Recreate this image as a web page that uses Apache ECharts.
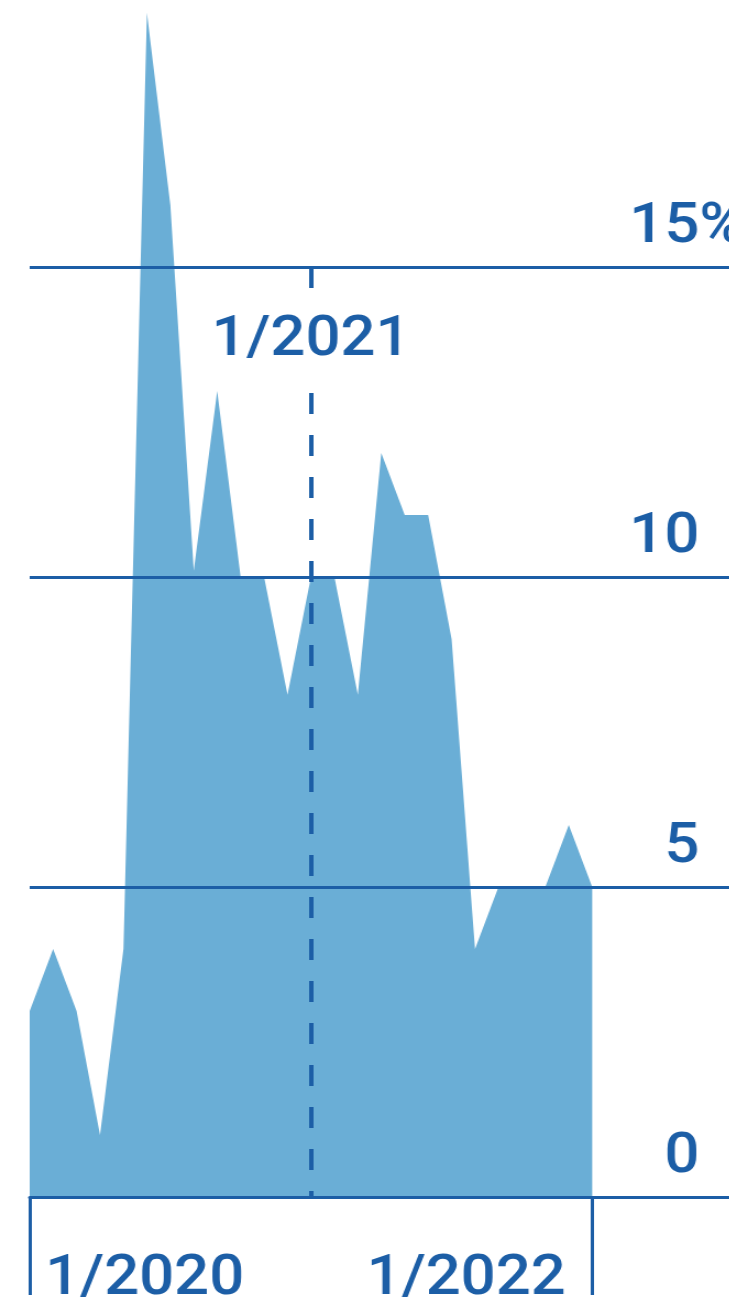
<!DOCTYPE html>
<html>
<head>
<meta charset="utf-8">
<script src="https://cdn.jsdelivr.net/npm/echarts@6/dist/echarts.min.js"></script>
<style>
  html, body { margin: 0; padding: 0; background: #ffffff; overflow: hidden; }
  /* the figure is set in a wide face: the drawing is laid out narrower and widened */
  #chart { width: 663px; height: 1315px; transform: scaleX(1.1); transform-origin: 0 0; }
</style>
</head>
<body>
<div id="chart"></div>
<script>
// Monthly rate, Jan 2020 – Jan 2022, in percent
const months = [
  '2020-01', '2020-02', '2020-03', '2020-04', '2020-05', '2020-06',
  '2020-07', '2020-08', '2020-09', '2020-10', '2020-11', '2020-12',
  '2021-01', '2021-02', '2021-03', '2021-04', '2021-05', '2021-06',
  '2021-07', '2021-08', '2021-09', '2021-10', '2021-11', '2021-12',
  '2022-01'
];
const rates = [
  3.0, 4.0, 3.0, 1.0, 4.0, 19.1,
  16.0, 10.1, 13.0, 10.0, 10.0, 8.1,
  10.0, 10.0, 8.1, 12.0, 11.0, 11.0,
  9.0, 4.0, 5.0, 5.0, 5.0, 6.0,
  5.0
];

// Axis annotations
const yTicks = [0, 5, 10, 15];
const yUnitTick = 15;               // the tick that carries the "%" sign
const xTickMonths = ['2020-01', '2022-01'];
const xTickLabels = ['1/2020', '1/2022'];
const markerMonth = '2021-01';
const markerLabel = '1/2021';

// Styling
const BLUE = '#1c5ea6';
const FILL = '#6aaed6';
const FONT = 'Roboto';
const FS = 56;
const X_MAX = 29.85;                // months of plot width up to the right edge

const idx = m => months.indexOf(m);
const seriesData = rates.map((v, i) => [i, v]);
const xTickIdx = xTickMonths.map(idx);
const xLabelFor = v => xTickLabels[xTickIdx.indexOf(v)] || '';

const textBase = {
  color: BLUE,
  fontFamily: FONT,
  fontSize: FS,
  fontWeight: 500,
  lineHeight: FS
};

const chart = echarts.init(document.getElementById('chart'), null, { renderer: 'canvas' });

chart.setOption({
  animation: false,
  backgroundColor: '#ffffff',
  grid: { left: 27, right: 0, top: -43, bottom: 118, containLabel: false, outerBoundsMode: 'none' },
  xAxis: [
    {
      type: 'value',
      min: 0,
      max: X_MAX,
      position: 'bottom',
      z: 5,
      axisLine: { show: true, lineStyle: { color: BLUE, width: 3 } },
      axisTick: {
        show: true,
        customValues: xTickIdx,
        length: 98,
        inside: false,
        lineStyle: { color: BLUE, width: 3 }
      },
      axisLabel: Object.assign({}, textBase, {
        show: true,
        customValues: [xTickIdx[0]],
        formatter: xLabelFor,
        align: 'left',
        verticalAlign: 'top',
        margin: 55,
        padding: [0, 0, 0, 14]
      }),
      splitLine: { show: false }
    },
    {
      type: 'value',
      min: 0,
      max: X_MAX,
      position: 'bottom',
      z: 5,
      axisLine: { show: false },
      axisTick: { show: false },
      axisLabel: Object.assign({}, textBase, {
        show: true,
        customValues: [xTickIdx[1]],
        formatter: xLabelFor,
        align: 'right',
        verticalAlign: 'top',
        margin: 55,
        padding: [0, 24, 0, 0]
      }),
      splitLine: { show: false }
    }
  ],
  yAxis: {
    type: 'value',
    min: 0,
    max: 20,
    interval: 5,
    position: 'right',
    z: 5,
    axisLine: { show: false },
    axisTick: { show: false },
    splitLine: { show: true, lineStyle: { color: BLUE, width: 3 } },
    axisLabel: Object.assign({}, textBase, {
      inside: true,
      margin: -14,
      align: 'right',
      verticalAlign: 'bottom',
      padding: [0, 0, 11, 0],
      // every label keeps the width of "%" so the digits line up; only the top one shows it
      formatter: v => (v === yUnitTick ? v + '%' : v + '{h|%}'),
      rich: {
        h: Object.assign({}, textBase, { color: 'rgba(0,0,0,0)' })
      }
    })
  },
  series: [
    {
      type: 'line',
      data: seriesData,
      symbol: 'none',
      silent: true,
      z: 2,
      lineStyle: { width: 0 },
      areaStyle: { color: FILL, opacity: 1 },
      markLine: {
        silent: true,
        animation: false,
        symbol: ['none', 'none'],
        z: 4,
        label: { show: false },
        lineStyle: { color: BLUE, width: 4, type: [21, 21] },
        data: [[
          { coord: [idx(markerMonth), yTicks[yTicks.length - 1]] },
          { coord: [idx(markerMonth), yTicks[0]] }
        ]]
      },
      markPoint: {
        silent: true,
        animation: false,
        z: 10,
        symbol: 'circle',
        symbolSize: 1,
        itemStyle: { color: 'rgba(0,0,0,0)' },
        data: [{ coord: [idx(markerMonth), yTicks[yTicks.length - 1]], value: markerLabel }],
        label: Object.assign({}, textBase, {
          show: true,
          position: 'inside',
          offset: [0, 74],
          formatter: markerLabel,
          backgroundColor: '#ffffff',
          padding: [12, 4, 0, 4]
        })
      }
    }
  ]
});
</script>
</body>
</html>
